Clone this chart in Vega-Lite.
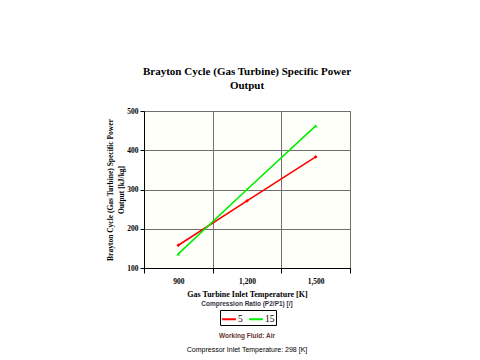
{
  "$schema": "https://vega.github.io/schema/vega-lite/v6.json",
  "autosize": {"type": "none"},
  "width": 206,
  "height": 157,
  "padding": {"left": 144, "top": 111, "right": 130, "bottom": 92},
  "background": "white",
  "title": {
    "text": ["Brayton Cycle (Gas Turbine) Specific Power", "Output"],
    "font": "Liberation Serif",
    "fontSize": 11,
    "fontWeight": "bold",
    "color": "black",
    "lineHeight": 14,
    "anchor": "middle",
    "offset": 16
  },
  "config": {
    "view": {"fill": "#fffffa", "stroke": "#555555", "strokeWidth": 1},
    "axis": {
      "labelFont": "Liberation Serif",
      "labelFontWeight": "bold",
      "labelFontSize": 7.5,
      "labelColor": "black",
      "labelOverlap": false,
      "labelBound": false,
      "labelFlush": false,
      "titleFont": "Liberation Serif",
      "titleFontWeight": "bold",
      "titleFontSize": 7.5,
      "titleColor": "black",
      "domainColor": "black",
      "tickColor": "black",
      "gridColor": "#707070",
      "gridOpacity": 1
    },
    "axisX": {
      "grid": true,
      "tickSize": 5,
      "labelPadding": 4,
      "titlePadding": 6,
      "titleFontSize": 8
    },
    "axisY": {
      "grid": true,
      "tickSize": 4,
      "labelPadding": 2,
      "titleLineHeight": 11,
      "titlePadding": 1
    }
  },
  "layer": [
    {
      "data": {
        "values": [
          {"temp": 900, "ratio": "5", "power": 158},
          {"temp": 1200, "ratio": "5", "power": 271},
          {"temp": 1500, "ratio": "5", "power": 383},
          {"temp": 900, "ratio": "15", "power": 136},
          {"temp": 1200, "ratio": "15", "power": 300},
          {"temp": 1500, "ratio": "15", "power": 462}
        ]
      },
      "encoding": {
        "x": {
          "field": "temp",
          "type": "quantitative",
          "scale": {"domain": [750, 1650], "nice": false, "zero": false},
          "axis": {
            "values": [750, 900, 1050, 1200, 1350, 1500, 1650],
            "labelExpr": "datum.value % 300 == 0 ? format(datum.value, ',') : ''",
            "gridOpacity": {"condition": {"test": "datum.value % 300 == 0 || datum.value == 750", "value": 0}, "value": 1},
            "tickOpacity": {"condition": {"test": "datum.value % 300 == 0", "value": 0}, "value": 1},
            "title": "Gas Turbine Inlet Temperature [K]"
          }
        },
        "y": {
          "field": "power",
          "type": "quantitative",
          "scale": {"domain": [100, 500], "nice": false, "zero": false},
          "axis": {
            "values": [100, 200, 300, 400, 500],
            "title": ["Brayton Cycle (Gas Turbine) Specific Power", "Output [kJ/kg]"]
          }
        }
      },
      "layer": [
        {
          "mark": {"type": "line", "strokeWidth": 1.6},
          "encoding": {
            "color": {
              "field": "ratio",
              "type": "nominal",
              "sort": ["5", "15"],
              "scale": {"domain": ["5", "15"], "range": ["#ff0000", "#00ee00"]},
              "legend": {
                "orient": "none",
                "legendX": 76,
                "legendY": 199,
                "direction": "horizontal",
                "title": null,
                "strokeColor": "black",
                "padding": 1,
                "symbolType": "stroke",
                "symbolSize": 190,
                "symbolStrokeWidth": 2,
                "labelFont": "Liberation Serif",
                "labelFontSize": 9.5,
                "labelColor": "black",
                "labelOffset": 1,
                "columnPadding": 2,
                "rowPadding": 0
              }
            }
          }
        },
        {
          "transform": [{"filter": "datum.ratio == '5'"}],
          "mark": {"type": "point", "filled": true, "size": 14, "shape": "diamond", "color": "#ff0000", "opacity": 1}
        },
        {
          "transform": [{"filter": "datum.ratio == '15'"}],
          "mark": {"type": "point", "filled": true, "size": 14, "shape": "triangle-up", "color": "#00ee00", "opacity": 1}
        }
      ]
    },
    {
      "data": {"values": [{"label": "Compression Ratio (P2/P1) [/]"}]},
      "mark": {"type": "text", "font": "Liberation Sans", "fontSize": 6.5, "fontWeight": "bold", "color": "#333344", "baseline": "middle", "clip": false},
      "encoding": {
        "x": {
          "datum": 1200, "type": "quantitative",
          "scale": {"domain": [750, 1650], "nice": false, "zero": false},
          "axis": {
            "values": [750, 900, 1050, 1200, 1350, 1500, 1650],
            "labelExpr": "datum.value % 300 == 0 ? format(datum.value, ',') : ''",
            "gridOpacity": {"condition": {"test": "datum.value % 300 == 0 || datum.value == 750", "value": 0}, "value": 1},
            "tickOpacity": {"condition": {"test": "datum.value % 300 == 0", "value": 0}, "value": 1},
            "title": "Gas Turbine Inlet Temperature [K]"
          }
        },
        "y": {
          "datum": 8, "type": "quantitative",
          "scale": {"domain": [100, 500], "nice": false, "zero": false},
          "axis": {
            "values": [100, 200, 300, 400, 500],
            "title": ["Brayton Cycle (Gas Turbine) Specific Power", "Output [kJ/kg]"]
          }
        },
        "text": {"field": "label"}
      }
    },
    {
      "data": {"values": [{"label": "Working Fluid:  Air"}]},
      "mark": {"type": "text", "font": "Liberation Sans", "fontSize": 6.5, "fontWeight": "bold", "color": "#663333", "baseline": "middle", "clip": false},
      "encoding": {
        "x": {
          "datum": 1200, "type": "quantitative",
          "scale": {"domain": [750, 1650], "nice": false, "zero": false},
          "axis": {
            "values": [750, 900, 1050, 1200, 1350, 1500, 1650],
            "labelExpr": "datum.value % 300 == 0 ? format(datum.value, ',') : ''",
            "gridOpacity": {"condition": {"test": "datum.value % 300 == 0 || datum.value == 750", "value": 0}, "value": 1},
            "tickOpacity": {"condition": {"test": "datum.value % 300 == 0", "value": 0}, "value": 1},
            "title": "Gas Turbine Inlet Temperature [K]"
          }
        },
        "y": {
          "datum": -73, "type": "quantitative",
          "scale": {"domain": [100, 500], "nice": false, "zero": false},
          "axis": {
            "values": [100, 200, 300, 400, 500],
            "title": ["Brayton Cycle (Gas Turbine) Specific Power", "Output [kJ/kg]"]
          }
        },
        "text": {"field": "label"}
      }
    },
    {
      "data": {"values": [{"label": "Compressor Inlet Temperature:  298 [K]"}]},
      "mark": {"type": "text", "font": "Liberation Sans", "fontSize": 7, "fontWeight": "normal", "color": "black", "baseline": "middle", "clip": false},
      "encoding": {
        "x": {
          "datum": 1200, "type": "quantitative",
          "scale": {"domain": [750, 1650], "nice": false, "zero": false},
          "axis": {
            "values": [750, 900, 1050, 1200, 1350, 1500, 1650],
            "labelExpr": "datum.value % 300 == 0 ? format(datum.value, ',') : ''",
            "gridOpacity": {"condition": {"test": "datum.value % 300 == 0 || datum.value == 750", "value": 0}, "value": 1},
            "tickOpacity": {"condition": {"test": "datum.value % 300 == 0", "value": 0}, "value": 1},
            "title": "Gas Turbine Inlet Temperature [K]"
          }
        },
        "y": {
          "datum": -109, "type": "quantitative",
          "scale": {"domain": [100, 500], "nice": false, "zero": false},
          "axis": {
            "values": [100, 200, 300, 400, 500],
            "title": ["Brayton Cycle (Gas Turbine) Specific Power", "Output [kJ/kg]"]
          }
        },
        "text": {"field": "label"}
      }
    }
  ]
}
